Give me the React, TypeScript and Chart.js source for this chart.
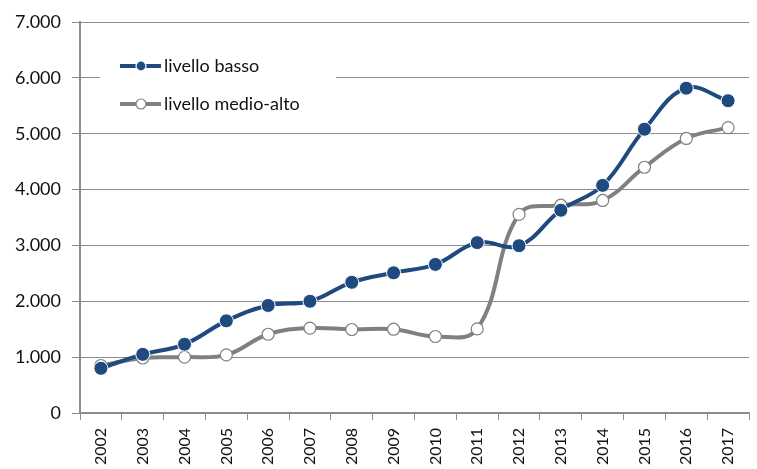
import React, { useEffect, useRef } from 'react';
import { Chart, registerables } from 'chart.js';

Chart.register(...registerables);

const years = ['2002', '2003', '2004', '2005', '2006', '2007', '2008', '2009', '2010', '2011', '2012', '2013', '2014', '2015', '2016', '2017'];
const livelloBasso = [800, 1050, 1230, 1650, 1925, 2000, 2340, 2510, 2660, 3050, 2995, 3630, 4075, 5080, 5815, 5590];
const livelloMedioAlto = [850, 985, 1000, 1040, 1410, 1520, 1495, 1500, 1370, 1505, 3555, 3720, 3805, 4400, 4915, 5110];
const seriesNames = ['livello basso', 'livello medio-alto'];
const yMin = 0;
const yMax = 7000;
const yStep = 1000;

const BLUE = '#1f4a80';
const GRAY = '#808080';
const GRID = '#8c8c8c';
const TEXT = '#111111';
const FONT = 'Lato, "Open Sans", sans-serif';

const fmt = (v: number) => String(Math.round(v)).replace(/\B(?=(\d{3})+(?!\d))/g, '.');

const inlineLegend = {
  id: 'inlineLegend',
  afterDatasetsDraw(chart: any) {
    const ctx = chart.ctx as CanvasRenderingContext2D;
    ctx.save();
    ctx.fillStyle = '#ffffff';
    ctx.fillRect(100, 42, 236, 82);
    const rows = [
      { y: 66, color: BLUE, fill: BLUE, stroke: '#ffffff' },
      { y: 104, color: GRAY, fill: '#ffffff', stroke: GRAY },
    ];
    rows.forEach((r, i) => {
      ctx.strokeStyle = r.color;
      ctx.lineWidth = 4;
      ctx.lineCap = 'butt';
      ctx.beginPath();
      ctx.moveTo(120, r.y);
      ctx.lineTo(161, r.y);
      ctx.stroke();
      ctx.beginPath();
      ctx.arc(141, r.y, 5, 0, Math.PI * 2);
      ctx.fillStyle = r.fill;
      ctx.fill();
      ctx.lineWidth = 1.2;
      ctx.strokeStyle = r.stroke;
      ctx.stroke();
      ctx.fillStyle = TEXT;
      ctx.font = '18px ' + FONT;
      ctx.textBaseline = 'middle';
      ctx.textAlign = 'left';
      ctx.fillText(seriesNames[i], 164, r.y);
    });
    ctx.restore();
  },
};

export default function App() {
  const ref = useRef<HTMLCanvasElement | null>(null);

  useEffect(() => {
    document.body.style.margin = '0';
    const canvas = ref.current;
    if (!canvas) return;
    const chart = new Chart(canvas, {
      type: 'line',
      data: {
        labels: years,
        datasets: [
          {
            label: seriesNames[0],
            data: livelloBasso,
            borderColor: BLUE,
            backgroundColor: BLUE,
            borderWidth: 4,
            tension: 0.4,
            pointRadius: 7,
            pointBackgroundColor: BLUE,
            pointBorderColor: '#ffffff',
            pointBorderWidth: 1,
          },
          {
            label: seriesNames[1],
            data: livelloMedioAlto,
            borderColor: GRAY,
            backgroundColor: '#ffffff',
            borderWidth: 4,
            tension: 0.4,
            pointRadius: 6,
            pointBackgroundColor: '#ffffff',
            pointBorderColor: GRAY,
            pointBorderWidth: 1.2,
          },
        ],
      },
      options: {
        responsive: false,
        animation: false,
        devicePixelRatio: 1,
        layout: { padding: { top: 22, right: 0, bottom: 0, left: 0 } },
        plugins: {
          legend: { display: false },
          tooltip: { enabled: false },
        },
        scales: {
          x: {
            offset: true,
            border: { display: true, color: GRID, width: 2 },
            grid: { display: true, drawOnChartArea: false, drawTicks: true, tickLength: 7, color: GRID, offset: true },
            ticks: {
              minRotation: 90,
              maxRotation: 90,
              autoSkip: false,
              padding: 8,
              color: TEXT,
              font: { family: FONT, size: 16 },
            },
            afterFit: (s: any) => {
              s.height = 56;
              s.paddingLeft = 0;
              s.paddingRight = 0;
            },
          },
          y: {
            min: yMin,
            max: yMax,
            border: { display: true, color: GRID, width: 2 },
            grid: { color: GRID, lineWidth: 1, drawTicks: true, tickLength: 8 },
            ticks: {
              stepSize: yStep,
              padding: 11,
              color: TEXT,
              font: { family: FONT, size: 18 },
              callback: (v: any) => fmt(Number(v)),
            },
            afterFit: (s: any) => {
              s.width = 80;
              s.paddingTop = 0;
              s.paddingBottom = 0;
            },
          },
        },
      },
      plugins: [inlineLegend],
    });
    return () => chart.destroy();
  }, []);

  return (
    <div style={{ width: 757, height: 469, background: '#fff' }}>
      <canvas ref={ref} width={757} height={469} style={{ display: 'block' }} />
    </div>
  );
}
